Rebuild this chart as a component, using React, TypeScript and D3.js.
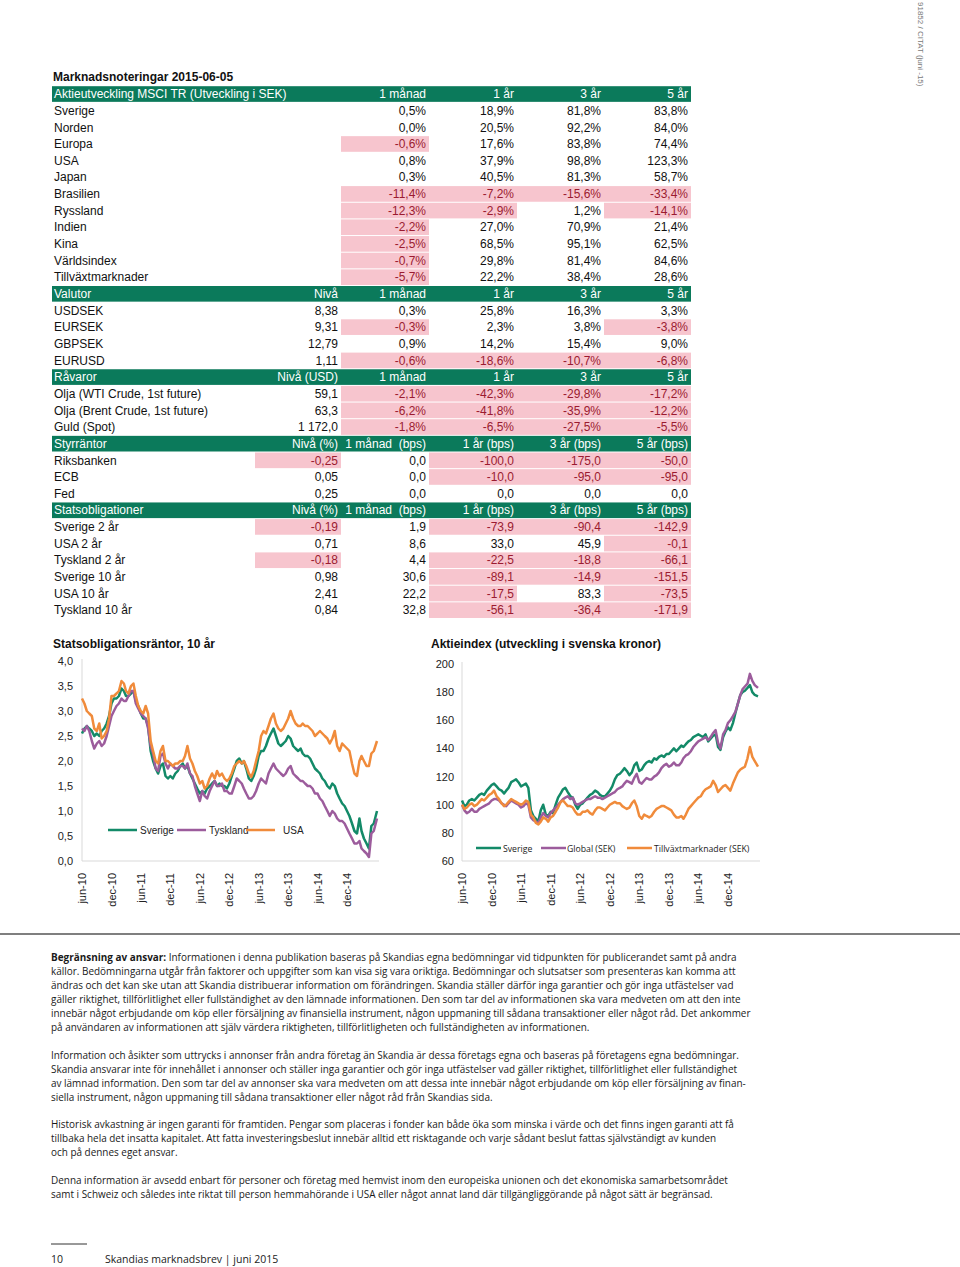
import React from 'react';
import * as d3 from 'd3';

// ---------- table data ----------
const aktieHeader = ['Aktieutveckling MSCI TR (Utveckling i SEK)', '', '1 månad', '1 år', '3 år', '5 år'];
const aktieRows = [
  ['Sverige', '', '0,5%', '18,9%', '81,8%', '83,8%'],
  ['Norden', '', '0,0%', '20,5%', '92,2%', '84,0%'],
  ['Europa', '', '-0,6%', '17,6%', '83,8%', '74,4%'],
  ['USA', '', '0,8%', '37,9%', '98,8%', '123,3%'],
  ['Japan', '', '0,3%', '40,5%', '81,3%', '58,7%'],
  ['Brasilien', '', '-11,4%', '-7,2%', '-15,6%', '-33,4%'],
  ['Ryssland', '', '-12,3%', '-2,9%', '1,2%', '-14,1%'],
  ['Indien', '', '-2,2%', '27,0%', '70,9%', '21,4%'],
  ['Kina', '', '-2,5%', '68,5%', '95,1%', '62,5%'],
  ['Världsindex', '', '-0,7%', '29,8%', '81,4%', '84,6%'],
  ['Tillväxtmarknader', '', '-5,7%', '22,2%', '38,4%', '28,6%'],
];
const valutaHeader = ['Valutor', 'Nivå', '1 månad', '1 år', '3 år', '5 år'];
const valutaRows = [
  ['USDSEK', '8,38', '0,3%', '25,8%', '16,3%', '3,3%'],
  ['EURSEK', '9,31', '-0,3%', '2,3%', '3,8%', '-3,8%'],
  ['GBPSEK', '12,79', '0,9%', '14,2%', '15,4%', '9,0%'],
  ['EURUSD', '1,11', '-0,6%', '-18,6%', '-10,7%', '-6,8%'],
];
const ravaraHeader = ['Råvaror', 'Nivå (USD)', '1 månad', '1 år', '3 år', '5 år'];
const ravaraRows = [
  ['Olja (WTI Crude, 1st future)', '59,1', '-2,1%', '-42,3%', '-29,8%', '-17,2%'],
  ['Olja (Brent Crude, 1st future)', '63,3', '-6,2%', '-41,8%', '-35,9%', '-12,2%'],
  ['Guld (Spot)', '1 172,0', '-1,8%', '-6,5%', '-27,5%', '-5,5%'],
];
const styrHeader = ['Styrräntor', 'Nivå (%)', '1 månad  (bps)', '1 år (bps)', '3 år (bps)', '5 år (bps)'];
const styrRows = [
  ['Riksbanken', '-0,25', '0,0', '-100,0', '-175,0', '-50,0'],
  ['ECB', '0,05', '0,0', '-10,0', '-95,0', '-95,0'],
  ['Fed', '0,25', '0,0', '0,0', '0,0', '0,0'],
];
const obligHeader = ['Statsobligationer', 'Nivå (%)', '1 månad  (bps)', '1 år (bps)', '3 år (bps)', '5 år (bps)'];
const obligRows = [
  ['Sverige 2 år', '-0,19', '1,9', '-73,9', '-90,4', '-142,9'],
  ['USA 2 år', '0,71', '8,6', '33,0', '45,9', '-0,1'],
  ['Tyskland 2 år', '-0,18', '4,4', '-22,5', '-18,8', '-66,1'],
  ['Sverige 10 år', '0,98', '30,6', '-89,1', '-14,9', '-151,5'],
  ['USA 10 år', '2,41', '22,2', '-17,5', '83,3', '-73,5'],
  ['Tyskland 10 år', '0,84', '32,8', '-56,1', '-36,4', '-171,9'],
];

// ---------- chart data (semi-monthly, jun-10 .. jun-15) ----------
const bondSverige = [
  2.55, 2.65, 2.7, 2.65, 2.6, 2.5, 2.55, 2.5, 2.6, 2.65, 2.75, 2.9, 3.15, 3.25,
  3.25, 3.3, 3.45, 3.4, 3.3, 3.3, 3.35, 3.4, 3.2, 3.1, 2.95, 2.85, 2.85, 2.7, 2.2, 2.0, 1.85, 1.75, 1.9, 1.95, 1.7, 1.65, 1.7, 1.65,
  1.75, 1.8, 1.9, 1.95, 1.85, 1.9, 1.75, 1.65, 1.55, 1.45, 1.35, 1.4, 1.35, 1.45, 1.5, 1.55, 1.6, 1.5, 1.55, 1.5, 1.5, 1.45, 1.55, 1.7,
  1.85, 2.0, 2.05, 1.95, 2.0, 1.85, 1.65, 1.6, 1.7, 1.85, 2.1, 2.2, 2.2, 2.3, 2.45, 2.55, 2.65, 2.5, 2.35, 2.3, 2.35, 2.4, 2.5, 2.45,
  2.3, 2.25, 2.2, 2.25, 2.15, 2.1, 2.1, 2.05, 1.95, 1.85, 1.8, 1.75, 1.65, 1.6, 1.5, 1.45, 1.55, 1.5, 1.35, 1.25, 1.15, 1.1, 1.0, 0.9,
  0.75, 0.6, 0.55, 0.85, 0.6, 0.45, 0.35, 0.25, 0.7, 0.75, 1.0,
];
const bondTyskland = [
  2.65, 2.6, 2.7, 2.6, 2.4, 2.25, 2.35, 2.4, 2.3, 2.35, 2.5, 2.7, 2.9, 3.0,
  3.1, 3.15, 3.25, 3.2, 3.2, 3.3, 3.4, 3.4, 3.15, 3.05, 2.95, 2.9, 2.85, 2.65, 2.3, 2.15, 1.85, 1.8, 2.1, 2.15, 1.95, 1.85, 1.95, 1.9,
  1.85, 1.85, 1.9, 1.9, 1.85, 1.95, 1.75, 1.7, 1.5, 1.35, 1.2, 1.4, 1.3, 1.25, 1.4, 1.5, 1.6, 1.5, 1.5, 1.55, 1.4, 1.4, 1.35, 1.35,
  1.5, 1.65, 1.6, 1.55, 1.45, 1.35, 1.25, 1.25, 1.3, 1.4, 1.55, 1.65, 1.6, 1.55, 1.75, 1.85, 1.95, 1.85, 1.8, 1.75, 1.7, 1.75, 1.85, 1.9,
  1.75, 1.7, 1.65, 1.6, 1.6, 1.55, 1.5, 1.5, 1.45, 1.35, 1.35, 1.25, 1.2, 1.1, 1.0, 0.9, 1.0, 0.95, 0.85, 0.8, 0.8, 0.75, 0.65, 0.55,
  0.45, 0.35, 0.35, 0.4, 0.25, 0.2, 0.15, 0.08, 0.55, 0.6, 0.85,
];
const bondUSA = [
  3.25, 3.15, 3.0, 2.95, 2.9, 2.65, 2.6, 2.75, 2.45, 2.5, 2.6, 2.85, 3.3, 3.3,
  3.35, 3.4, 3.6, 3.55, 3.4, 3.35, 3.5, 3.55, 3.3, 3.1, 3.0, 2.95, 3.1, 2.95, 2.4, 2.2, 2.0, 1.95, 2.2, 2.3, 2.0, 2.0, 1.95, 1.9,
  1.95, 1.95, 2.0, 2.0, 2.1, 2.3, 2.05, 1.95, 1.8, 1.7, 1.55, 1.6, 1.45, 1.5, 1.65, 1.75, 1.65, 1.8, 1.7, 1.75, 1.65, 1.6, 1.65, 1.75,
  1.9, 1.95, 2.0, 1.95, 2.0, 1.9, 1.75, 1.68, 1.8, 2.0, 2.2, 2.5, 2.6, 2.55, 2.7, 2.85, 2.95, 2.75, 2.65, 2.6, 2.65, 2.75, 2.85, 3.0,
  2.85, 2.75, 2.7, 2.7, 2.75, 2.7, 2.7, 2.65, 2.6, 2.5, 2.55, 2.6, 2.55, 2.5, 2.45, 2.35, 2.45, 2.6, 2.3, 2.2, 2.35, 2.3, 2.25, 2.2,
  1.95, 1.75, 1.7, 2.0, 2.1, 2.0, 1.9, 1.9, 2.15, 2.2, 2.4,
];
const eqSverige = [
  103, 99, 100, 103, 104, 103, 105, 107, 108, 107, 110, 112, 114, 115,
  113, 111, 110, 108, 110, 112, 116, 117, 118, 116, 113, 114, 115, 112, 96, 92, 90, 88, 96, 100, 93, 92, 95, 94,
  100, 105, 108, 111, 112, 109, 106, 105, 100, 97, 100, 101, 103, 105, 107, 108, 110, 109, 107, 106, 106, 108, 110, 113,
  118, 121, 122, 124, 126, 124, 121, 123, 128, 130, 124, 125, 128, 130, 131, 130, 133, 132, 134, 135, 134, 136, 136, 138,
  140, 138, 140, 142, 141, 143, 145, 146, 148, 149, 150, 149, 148, 150, 145, 147, 149, 150, 141, 139, 148, 152, 155, 153,
  158, 165, 172, 178, 180, 181, 183, 185, 180, 178, 177,
];
const eqGlobal = [
  100, 96, 94, 95, 97, 95, 95, 97, 98, 99, 100, 101, 103, 104,
  104, 103, 101, 100, 99, 101, 103, 102, 101, 100, 98, 99, 101, 100, 91, 89, 88, 87, 91, 94, 92, 91, 94, 96,
  98, 100, 102, 104, 105, 106, 104, 105, 101, 100, 101, 102, 103, 104, 104, 105, 106, 105, 105, 104, 105, 106, 107, 108,
  109, 111, 112, 113, 115, 117, 116, 115, 119, 122, 116, 115, 117, 119, 118, 118, 120, 121, 123, 126, 128, 129, 127, 128,
  130, 128, 128, 130, 133, 135, 136, 138, 141, 143, 145, 146, 147, 148, 146, 148, 151, 153, 144, 140, 150, 153, 158, 160,
  163, 166, 172, 178, 182, 184, 186, 193, 188, 185, 183,
];
const eqTillvaxt = [
  100, 97, 98, 100, 101, 99, 100, 102, 104, 103, 105, 107, 108, 110,
  106, 104, 101, 99, 100, 102, 104, 103, 102, 101, 100, 101, 103, 102, 93, 91, 87, 86, 88, 91, 90, 88, 91, 92,
  95, 98, 102, 103, 101, 99, 99, 98, 95, 93, 93, 95, 95, 96, 94, 93, 96, 98, 98, 97, 96, 98, 100, 101,
  102, 101, 101, 99, 98, 97, 98, 101, 103, 99, 92, 90, 93, 92, 91, 92, 95, 97, 98, 99, 99, 98, 97, 96,
  93, 91, 91, 92, 90, 93, 97, 99, 101, 103, 105, 106, 109, 111, 112, 113, 117, 114, 109, 111, 113, 114, 112, 110,
  115, 119, 123, 125, 126, 127, 133, 141, 134, 131, 127,
];
const xTickLabels = ['jun-10', 'dec-10', 'jun-11', 'dec-11', 'jun-12', 'dec-12', 'jun-13', 'dec-13', 'jun-14', 'dec-14'];
const bondTicks = [0, 0.5, 1, 1.5, 2, 2.5, 3, 3.5, 4];
const eqTicks = [60, 80, 100, 120, 140, 160, 180, 200];

const disclaimer = [
  ['Informationen i denna publikation baseras på Skandias egna bedömningar vid tidpunkten för publicerandet samt på andra',
   'källor. Bedömningarna utgår från faktorer och uppgifter som kan visa sig vara oriktiga. Bedömningar och slutsatser som presenteras kan komma att',
   'ändras och det kan ske utan att Skandia distribuerar information om förändringen. Skandia ställer därför inga garantier och gör inga utfästelser vad',
   'gäller riktighet, tillförlitlighet eller fullständighet av den lämnade informationen. Den som tar del av informationen ska vara medveten om att den inte',
   'innebär något erbjudande om köp eller försäljning av finansiella instrument, någon uppmaning till sådana transaktioner eller något råd. Det ankommer',
   'på användaren av informationen att själv värdera riktigheten, tillförlitligheten och fullständigheten av informationen.'],
  ['Information och åsikter som uttrycks i annonser från andra företag än Skandia är dessa företags egna och baseras på företagens egna bedömningar.',
   'Skandia ansvarar inte för innehållet i annonser och ställer inga garantier och gör inga utfästelser vad gäller riktighet, tillförlitlighet eller fullständighet',
   'av lämnad information. Den som tar del av annonser ska vara medveten om att dessa inte innebär något erbjudande om köp eller försäljning av finan-',
   'siella instrument, någon uppmaning till sådana transaktioner eller något råd från Skandias sida.'],
  ['Historisk avkastning är ingen garanti för framtiden. Pengar som placeras i fonder kan både öka som minska i värde och det finns ingen garanti att få',
   'tillbaka hela det insatta kapitalet. Att fatta investeringsbeslut innebär alltid ett risktagande och varje sådant beslut fattas självständigt av kunden',
   'och på dennes eget ansvar.'],
  ['Denna information är avsedd enbart för personer och företag med hemvist inom den europeiska unionen och det ekonomiska samarbetsområdet',
   'samt i Schweiz och således inte riktat till person hemmahörande i USA eller något annat land där tillgängliggörande på något sätt är begränsad.'],
];

const GREEN = '#0b7a5b';
const PINK = '#f7c5ce';
const RED_TXT = '#9b1b30';
const C_GREEN = '#138a68';
const C_PURPLE = '#9c5c9c';
const C_ORANGE = '#f08b3b';
const ARIAL = 'Liberation Sans, Arial, sans-serif';
const HUM = 'Open Sans, Noto Sans, sans-serif';

const START = new Date(2010, 5, 1);
const obsDates: Date[] = [];
d3.timeMonth.range(START, new Date(2015, 5, 1)).forEach((m) => {
  obsDates.push(m, d3.timeDay.offset(m, 15));
});
obsDates.push(new Date(2015, 5, 5));
const tickDates = xTickLabels.map((_, i) => d3.timeMonth.offset(START, 6 * i));

function Table() {
  const sections = [
    [aktieHeader, aktieRows],
    [valutaHeader, valutaRows],
    [ravaraHeader, ravaraRows],
    [styrHeader, styrRows],
    [obligHeader, obligRows],
  ] as [string[], string[][]][];
  const all: { cells: string[]; header: boolean }[] = [];
  sections.forEach(([h, rows]) => {
    all.push({ cells: h, header: true });
    rows.forEach((r) => all.push({ cells: r, header: false }));
  });
  const y = d3.scaleBand<number>().domain(d3.range(all.length)).range([85.7, 85.7 + all.length * 16.65]);
  const colEdges = [52, 255, 341, 429, 517, 604, 691];
  return (
    <g fontFamily={ARIAL} fontSize={12}>
      <text x={53} y={81} fontWeight="bold" fontSize={12} fill="#111">Marknadsnoteringar 2015-06-05</text>
      {all.map((row, i) => {
        const y0 = y(i)!;
        const bh = y.bandwidth();
        const ty = y0 + bh / 2 + 4.2;
        if (row.header) {
          return (
            <g key={i}>
              <rect x={colEdges[0]} y={y0 + 0.5} width={colEdges[6] - colEdges[0]} height={bh - 1} fill={GREEN} />
              <text x={54} y={ty} fill="#fff">{row.cells[0]}</text>
              {row.cells.slice(1).map((c, j) => (
                <text key={j} x={colEdges[j + 2] - 3} y={ty} fill="#fff" textAnchor="end" style={{ whiteSpace: 'pre' }}>{c}</text>
              ))}
            </g>
          );
        }
        return (
          <g key={i}>
            {row.cells.slice(1).map((c, j) =>
              c.startsWith('-') ? (
                <rect key={'r' + j} x={colEdges[j + 1]} y={y0 + 0.5} width={colEdges[j + 2] - colEdges[j + 1]} height={bh - 1} fill={PINK} />
              ) : null
            )}
            <text x={54} y={ty} fill="#111">{row.cells[0]}</text>
            {row.cells.slice(1).map((c, j) => (
              <text key={j} x={colEdges[j + 2] - 3} y={ty} textAnchor="end" fill={c.startsWith('-') ? RED_TXT : '#111'}>{c}</text>
            ))}
          </g>
        );
      })}
    </g>
  );
}

type ChartProps = {
  title: string; titleX: number; x0: number; x1: number; yTop: number; yBot: number;
  domain: [number, number]; ticks: number[]; fmt: (v: number) => string; labelRight: number;
  series: { name: string; values: number[]; color: string }[];
  legend: { y: number; items: { lx: number; len: number; tx: number }[]; font: string; size: number };
};

function LineChart(p: ChartProps) {
  const x = d3.scaleTime().domain([START, new Date(2015, 5, 5)]).range([p.x0, p.x1]);
  const y = d3.scaleLinear().domain(p.domain).range([p.yBot, p.yTop]);
  const line = d3.line<number>().x((_, i) => x(obsDates[i])).y((d) => y(d));
  return (
    <g>
      <text x={p.titleX} y={648} fontFamily={ARIAL} fontWeight="bold" fontSize={12} fill="#111">{p.title}</text>
      <line x1={p.x0} x2={p.x0} y1={p.yTop - 2} y2={p.yBot} stroke="#d9d9d9" />
      <line x1={p.x0} x2={p.x1 + 2} y1={p.yBot} y2={p.yBot} stroke="#d9d9d9" />
      {p.ticks.map((t) => (
        <text key={t} x={p.labelRight} y={y(t) + 4} textAnchor="end" fontFamily={ARIAL} fontSize={11} fill="#222">{p.fmt(t)}</text>
      ))}
      {tickDates.map((d, i) => (
        <text key={i} transform={`translate(${x(d) + 4},${p.yBot + 12}) rotate(-90)`} textAnchor="end" fontFamily={ARIAL} fontSize={11} fill="#222">{xTickLabels[i]}</text>
      ))}
      {p.series.map((s) => (
        <path key={s.name} d={line(s.values) || ''} fill="none" stroke={s.color} strokeWidth={2.5} strokeLinejoin="round" />
      ))}
      {p.series.map((s, i) => {
        const it = p.legend.items[i];
        return (
          <g key={'l' + s.name}>
            <line x1={it.lx} x2={it.lx + it.len} y1={p.legend.y} y2={p.legend.y} stroke={s.color} strokeWidth={2.5} />
            <text x={it.tx} y={p.legend.y + 3.5} fontFamily={p.legend.font} fontSize={p.legend.size} fill="#222">{s.name}</text>
          </g>
        );
      })}
    </g>
  );
}

export default function App() {
  const fmt1 = (v: number) => v.toFixed(1).replace('.', ',');
  return (
    <svg width={960} height={1267} style={{ position: 'absolute', left: 0, top: 0, background: '#fff' }} xmlns="http://www.w3.org/2000/svg">
      <rect width={960} height={1267} fill="#fff" />
      <text transform="translate(918,2) rotate(90)" fontFamily={ARIAL} fontSize={8} fill="#777">91852 / CITAT (juni -15)</text>
      <Table />
      <LineChart
        title="Statsobligationsräntor, 10 år" titleX={53} x0={82} x1={377} yTop={661} yBot={861}
        domain={[0, 4]} ticks={bondTicks} fmt={fmt1} labelRight={73}
        series={[
          { name: 'Sverige', values: bondSverige, color: C_GREEN },
          { name: 'Tyskland', values: bondTyskland, color: C_PURPLE },
          { name: 'USA', values: bondUSA, color: C_ORANGE },
        ]}
        legend={{ y: 830, font: ARIAL, size: 10, items: [{ lx: 108, len: 29, tx: 140 }, { lx: 177, len: 29, tx: 209 }, { lx: 246, len: 29, tx: 283 }] }}
      />
      <LineChart
        title="Aktieindex (utveckling i svenska kronor)" titleX={431} x0={462} x1={758} yTop={664} yBot={861}
        domain={[60, 200]} ticks={eqTicks} fmt={(v) => String(v)} labelRight={454}
        series={[
          { name: 'Sverige', values: eqSverige, color: C_GREEN },
          { name: 'Global (SEK)', values: eqGlobal, color: C_PURPLE },
          { name: 'Tillväxtmarknader (SEK)', values: eqTillvaxt, color: C_ORANGE },
        ]}
        legend={{ y: 848, font: HUM, size: 8.7, items: [{ lx: 476, len: 25, tx: 503 }, { lx: 541, len: 25, tx: 567 }, { lx: 627, len: 25, tx: 654 }] }}
      />
      <line x1={0} x2={960} y1={934} y2={934} stroke="#555" strokeWidth={1.5} />
      <g fontFamily={HUM} fontSize={9.95} fill="#1a1a1a">
        {(() => {
          const out: JSX.Element[] = [];
          const starts = [957, 1055, 1124, 1180];
          disclaimer.forEach((para, pi) => {
            para.forEach((ln, li) => {
              const yy = starts[pi] + li * 14 + 3.5;
              out.push(
                <text key={pi + '-' + li} x={51} y={yy}>
                  {pi === 0 && li === 0 ? <tspan fontWeight="bold">Begränsning av ansvar: </tspan> : null}
                  {ln}
                </text>
              );
            });
          });
          return out;
        })()}
      </g>
      <line x1={51} x2={87} y1={1244} y2={1244} stroke="#333" strokeWidth={1} />
      <text x={51} y={1263} fontFamily={HUM} fontSize={10.5} fill="#222">10</text>
      <text x={105} y={1263} fontFamily={HUM} fontSize={10.5} fill="#222">Skandias marknadsbrev | juni 2015</text>
    </svg>
  );
}
